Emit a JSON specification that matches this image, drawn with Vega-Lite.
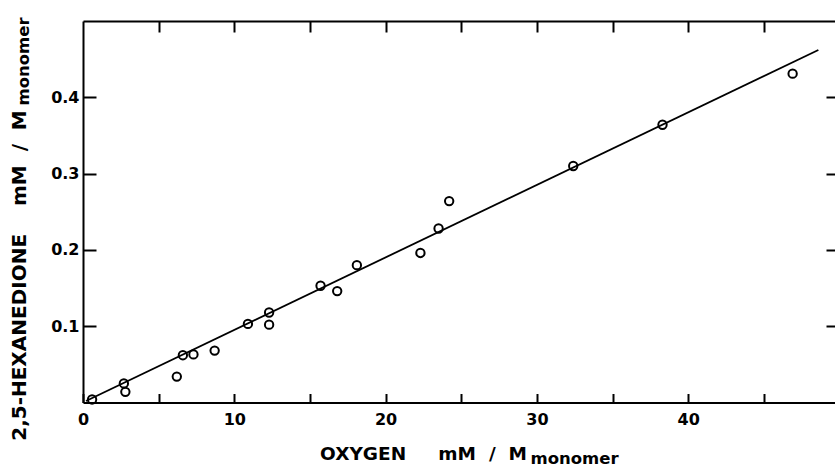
{
  "$schema": "https://vega.github.io/schema/vega-lite/v6.json",
  "width": 752,
  "height": 381.5,
  "autosize": {"type": "none"},
  "padding": {"left": 83, "top": 21, "right": 0, "bottom": 65},
  "background": "white",
  "config": {
    "view": {"stroke": null},
    "axis": {
      "labelFont": "DejaVu Sans", "labelFontWeight": "bold", "labelFontSize": 16, "labelColor": "black",
      "titleFont": "DejaVu Sans", "titleFontWeight": "bold", "titleFontSize": 18.5, "titleColor": "black",
      "domainColor": "black", "domainWidth": 2, "tickColor": "black", "tickWidth": 2, "grid": false
    }
  },
  "datasets": {
    "pts": [
      {"oxygen": 0.6, "hexanedione": 0.004},
      {"oxygen": 2.7, "hexanedione": 0.025},
      {"oxygen": 2.8, "hexanedione": 0.014},
      {"oxygen": 6.2, "hexanedione": 0.034},
      {"oxygen": 6.6, "hexanedione": 0.062},
      {"oxygen": 7.3, "hexanedione": 0.063},
      {"oxygen": 8.7, "hexanedione": 0.068},
      {"oxygen": 10.9, "hexanedione": 0.103},
      {"oxygen": 12.3, "hexanedione": 0.118},
      {"oxygen": 12.3, "hexanedione": 0.102},
      {"oxygen": 15.7, "hexanedione": 0.153},
      {"oxygen": 16.8, "hexanedione": 0.146},
      {"oxygen": 18.1, "hexanedione": 0.180},
      {"oxygen": 22.3, "hexanedione": 0.196},
      {"oxygen": 23.5, "hexanedione": 0.228},
      {"oxygen": 24.2, "hexanedione": 0.264},
      {"oxygen": 32.4, "hexanedione": 0.310},
      {"oxygen": 38.3, "hexanedione": 0.364},
      {"oxygen": 46.9, "hexanedione": 0.431}
    ],
    "fit": [
      {"oxygen": 0.2, "hexanedione": 0.002},
      {"oxygen": 48.6, "hexanedione": 0.462}
    ]
  },
  "layer": [
    {
      "data": {"name": "pts"},
      "mark": {"type": "point", "shape": "circle", "filled": false, "stroke": "black", "strokeWidth": 2, "size": 70, "opacity": 1},
      "encoding": {
        "x": {
          "field": "oxygen", "type": "quantitative",
          "scale": {"domain": [0, 49.7], "nice": false, "zero": false},
          "axis": {
            "orient": "bottom", "values": [0, 5, 10, 15, 20, 25, 30, 35, 40, 45],
            "labelExpr": "datum.value % 10 === 0 ? datum.label : ''",
            "tickSize": -9, "labelPadding": 18, "labelFlush": false,
            "title": "OXYGEN\u00a0\u00a0\u00a0\u00a0\u00a0mM\u00a0\u00a0/\u00a0\u00a0M",
            "titleX": 340, "titleY": 56.5, "titleBaseline": "alphabetic", "titleAlign": "center"
          }
        },
        "y": {
          "field": "hexanedione", "type": "quantitative",
          "scale": {"domain": [0, 0.5], "nice": false, "zero": false},
          "axis": {
            "orient": "left", "values": [0.1, 0.2, 0.3, 0.4], "format": ".1f",
            "tickSize": -13, "labelPadding": 17,
            "title": "2,5-HEXANEDIONE\u00a0\u00a0\u00a0\u00a0mM\u00a0\u00a0/\u00a0\u00a0M",
            "titleFontSize": 20,
            "titleX": -58, "titleY": 254, "titleBaseline": "alphabetic", "titleAlign": "center"
          }
        }
      }
    },
    {
      "data": {"name": "fit"},
      "mark": {"type": "line", "stroke": "black", "strokeWidth": 1.8},
      "encoding": {
        "x": {
          "field": "oxygen", "type": "quantitative",
          "scale": {"domain": [0, 49.7], "nice": false, "zero": false},
          "axis": {"orient": "bottom", "ticks": false, "labels": false, "domain": false,
            "title": "monomer", "titleFontSize": 16.5, "titleX": 491, "titleY": 60.5, "titleBaseline": "alphabetic", "titleAlign": "center"}
        },
        "y": {
          "field": "hexanedione", "type": "quantitative",
          "scale": {"domain": [0, 0.5], "nice": false, "zero": false},
          "axis": {"orient": "left", "ticks": false, "labels": false, "domain": false,
            "title": "monomer", "titleFontSize": 16.5, "titleX": -55, "titleY": 40, "titleBaseline": "alphabetic", "titleAlign": "center"}
        }
      }
    },
    {
      "data": {"name": "pts"},
      "mark": {"type": "point", "opacity": 0},
      "encoding": {
        "x": {
          "field": "oxygen", "type": "quantitative",
          "scale": {"domain": [0, 49.7], "nice": false, "zero": false},
          "axis": {"orient": "top", "values": [5, 10, 15, 20, 25, 30, 35, 40, 45], "tickSize": -11, "labels": false, "title": null}
        },
        "y": {
          "field": "hexanedione", "type": "quantitative",
          "scale": {"domain": [0, 0.5], "nice": false, "zero": false},
          "axis": {"orient": "right", "values": [0.1, 0.2, 0.3, 0.4], "tickSize": -9, "labels": false, "domain": false, "title": null}
        }
      }
    }
  ],
  "resolve": {"axis": {"x": "independent", "y": "independent"}}
}
